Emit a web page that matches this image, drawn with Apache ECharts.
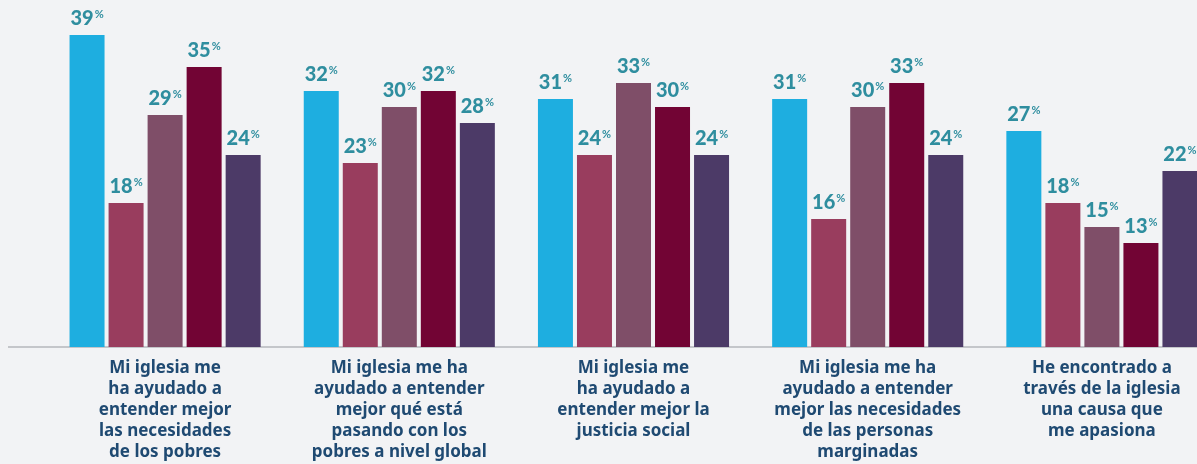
<!DOCTYPE html>
<html>
<head>
<meta charset="utf-8">
<script src="https://cdn.jsdelivr.net/npm/echarts@6/dist/echarts.min.js"></script>
<style>
  html, body { margin: 0; padding: 0; background: #f2f3f5; overflow: hidden; }
  #wrap { width: 1197px; height: 464px; overflow: hidden; }
  /* the plot runs past the right edge, so the canvas is wider than the frame */
  #chart { width: 1240px; height: 464px; }
</style>
</head>
<body>
<div id="wrap"><div id="chart"></div></div>
<script>
// Categories (statements), one group of bars per statement
const categories = [
  'Mi iglesia me\nha ayudado a\nentender mejor\nlas necesidades\nde los pobres',
  'Mi iglesia me ha\nayudado a entender\nmejor qué está\npasando con los\npobres a nivel global',
  'Mi iglesia me\nha ayudado a\nentender mejor la\njusticia social',
  'Mi iglesia me ha\nayudado a entender\nmejor las necesidades\nde las personas\nmarginadas',
  'He encontrado a\ntravés de la iglesia\nuna causa que\nme apasiona'
];

// Percentages per respondent group
const group1 = [39, 32, 31, 31, 27];
const group2 = [18, 23, 24, 16, 18];
const group3 = [29, 30, 33, 30, 15];
const group4 = [35, 32, 30, 33, 13];
const group5 = [24, 28, 24, 24, 22];

const seriesData = [group1, group2, group3, group4, group5];
const seriesNames = ['Grupo 1', 'Grupo 2', 'Grupo 3', 'Grupo 4', 'Grupo 5'];
const colors = ['#1eaee0', '#993d5e', '#7f4e68', '#720434', '#4c3a67'];

const chart = echarts.init(document.getElementById('chart'));

const series = seriesData.map((data, i) => ({
  name: seriesNames[i],
  type: 'bar',
  data: data,
  barWidth: 35,
  barGap: '11.5%',
  itemStyle: { color: colors[i] },
  label: {
    show: true,
    position: 'top',
    distance: 6,
    formatter: p => '{n|' + p.value + '}{p|%}',
    rich: {
      n: { fontFamily: 'Lato', fontWeight: 900, fontSize: 20, color: '#2f8e9f' },
      p: { fontFamily: 'Lato', fontWeight: 700, fontSize: 11, color: '#2f8e9f', verticalAlign: 'top', padding: [0, 0, 9, 1] }
    }
  }
}));

chart.setOption({
  backgroundColor: '#f2f3f5',
  animation: false,
  grid: { left: 48, top: 27, width: 1171, height: 320, containLabel: false },
  xAxis: {
    type: 'category',
    data: categories,
    axisLine: { show: true, lineStyle: { color: '#c4c6ca', width: 2 } },
    axisTick: { show: false },
    axisLabel: {
      interval: 0,
      margin: 11,
      color: '#1f4a72',
      fontFamily: '"Noto Sans", sans-serif',
      fontWeight: 'bold',
      fontSize: 17,
      lineHeight: 21
    }
  },
  yAxis: {
    type: 'value',
    min: 0,
    max: 40,
    show: false,
    splitLine: { show: false }
  },
  graphic: [{
    type: 'line',
    shape: { x1: 8, y1: 347, x2: 48, y2: 347 },
    style: { stroke: '#c4c6ca', lineWidth: 2 }
  }],
  series: series
});
</script>
</body>
</html>
